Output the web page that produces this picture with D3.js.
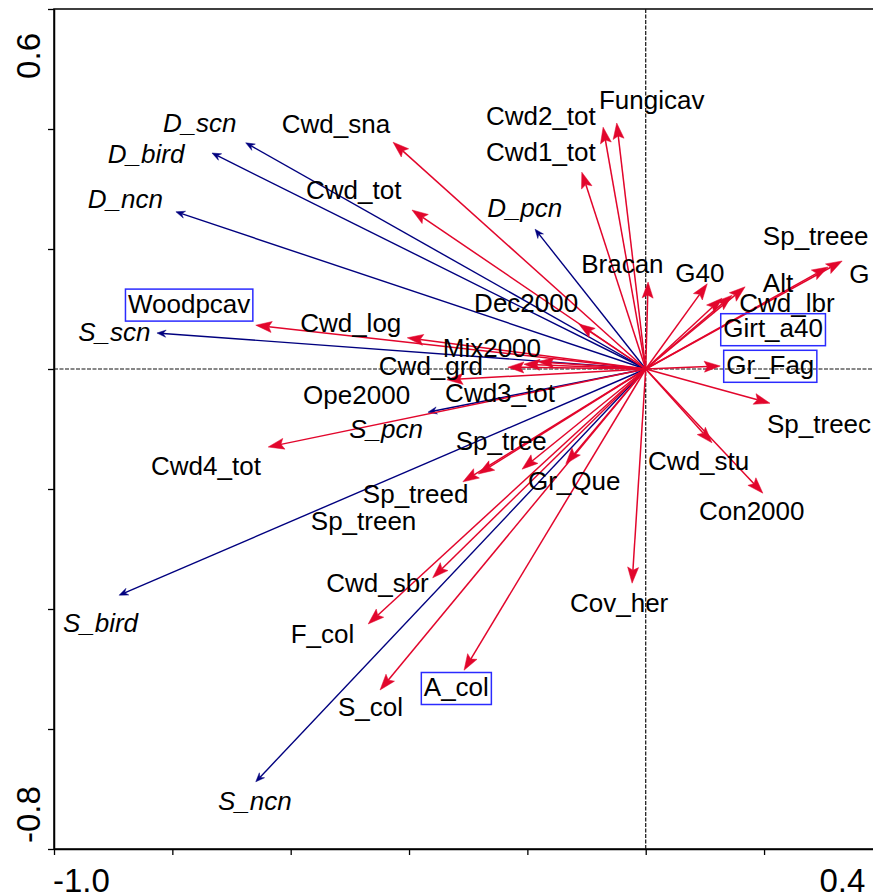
<!DOCTYPE html>
<html>
<head>
<meta charset="utf-8">
<script src="https://cdn.jsdelivr.net/npm/d3@7"></script>
<style>
  body { margin: 0; background: #fff; }
  svg { display: block; font-family: Arial, "Liberation Sans", sans-serif; }
</style>
</head>
<body>
<svg id="chart" width="873" height="896"></svg>
<script>
// Species scores (response variables), drawn as navy arrows
const species  = ["D_scn", "D_bird", "D_ncn", "D_pcn", "S_scn", "S_pcn", "S_bird", "S_ncn"];
const speciesX = [-0.676, -0.733, -0.794, -0.187, -0.826, -0.368, -0.890, -0.659];
const speciesY = [ 0.377,  0.360,  0.262,  0.233,  0.060, -0.072, -0.377, -0.688];

// Environmental variables, drawn as red arrows
const envVars = ["Cwd_sna", "Cwd_tot", "Cwd2_tot", "Fungicav", "Cwd1_tot", "Bracan", "Dec2000",
  "Woodpcav", "Cwd_log", "Mix2000", "Cwd3_tot", "Cwd_grd", "Ope2000", "Cwd4_tot",
  "Sp_treed", "Sp_treen", "Sp_tree", "Gr_Que", "Cwd_sbr", "F_col", "S_col", "A_col",
  "Cov_her", "Cwd_stu", "Con2000", "Sp_treec", "Gr_Fag", "Girt_a40", "Cwd_lbr", "Alt",
  "G40", "Sp_treee", "G"];
const envX = [-0.427, -0.395, -0.072, -0.049, -0.108, 0.004, -0.113,
  -0.659, -0.403, -0.182, -0.206, -0.233, -0.336, -0.638,
  -0.309, -0.283, -0.209, -0.135, -0.360, -0.469, -0.449, -0.307,
  -0.023, 0.112, 0.198, 0.210, 0.126, 0.129, 0.146, 0.168,
  0.104, 0.308, 0.332];
const envY = [0.378, 0.265, 0.403, 0.410, 0.328, 0.145, 0.075,
  0.073, 0.052, 0.012, 0.008, 0.003, -0.018, -0.130,
  -0.188, -0.175, -0.167, -0.158, -0.348, -0.425, -0.535, -0.502,
  -0.357, -0.123, -0.207, -0.057, 0.005, 0.118, 0.123, 0.137,
  0.142, 0.170, 0.180];

// Label anchors (start of text, baseline) in plot units
const speciesLabelX = [-0.816, -0.909, -0.943, -0.268, -0.959, -0.501, -0.985, -0.723];
const speciesLabelY = [ 0.395,  0.343,  0.268,  0.253,  0.047, -0.115, -0.438, -0.735];
const envLabelX = [-0.615, -0.574, -0.270, -0.079, -0.270, -0.109, -0.290,
  -0.875, -0.584, -0.343, -0.339, -0.451, -0.579, -0.836,
  -0.478, -0.566, -0.321, -0.199, -0.540, -0.600, -0.520, -0.375,
  -0.128, 0.004, 0.090, 0.205, 0.136, 0.131, 0.158, 0.198,
  0.050, 0.198, 0.344];
const envLabelY = [0.393, 0.283, 0.407, 0.433, 0.347, 0.160, 0.095,
  0.094, 0.062, 0.020, -0.055, -0.010, -0.058, -0.177,
  -0.223, -0.268, -0.135, -0.202, -0.372, -0.457, -0.578, -0.545,
  -0.405, -0.168, -0.252, -0.107, -0.008, 0.053, 0.095, 0.128,
  0.145, 0.207, 0.143];

// Variables highlighted with a frame
const boxedLabels = ["Woodpcav", "Girt_a40", "Gr_Fag", "A_col"];

// Axes
const xDomain = [-1.0, 0.4];
const yDomain = [-0.8, 0.6];
const xTicks = [-1.0, -0.8, -0.6, -0.4, -0.2, 0.0, 0.2, 0.4];
const yTicks = [-0.8, -0.6, -0.4, -0.2, 0.0, 0.2, 0.4, 0.6];
const xEndLabels = ["-1.0", "0.4"];
const yEndLabels = ["-0.8", "0.6"];

const RED = "#e2062c";
const NAVY = "#00007f";
const BOXBLUE = "#2b2bff";

const svg = d3.select("#chart");
const x = d3.scaleLinear().domain(xDomain).range([54, 882.4]);
const y = d3.scaleLinear().domain(yDomain).range([849, 9]);

// frame
svg.append("rect")
  .attr("x", x(xDomain[0])).attr("y", y(yDomain[1]))
  .attr("width", x(xDomain[1]) - x(xDomain[0]))
  .attr("height", y(yDomain[0]) - y(yDomain[1]))
  .attr("fill", "none").attr("stroke", "#000").attr("stroke-width", 1.5);

// tick marks
const axL = d3.axisLeft(y).tickValues(yTicks).tickFormat("").tickSize(6).tickSizeOuter(0);
const axB = d3.axisBottom(x).tickValues(xTicks).tickFormat("").tickSize(6).tickSizeOuter(0);
const gL = svg.append("g").attr("transform", `translate(${x(xDomain[0])},0)`).call(axL);
const gB = svg.append("g").attr("transform", `translate(0,${y(yDomain[0])})`).call(axB);
[gL, gB].forEach(g => {
  g.select(".domain").attr("stroke", "#000").attr("stroke-width", 1.5);
  g.selectAll(".tick line").attr("stroke", "#000").attr("stroke-width", 1.3);
});

// end labels of the axes
svg.append("text").attr("x", x(xDomain[0]) - 1).attr("y", 892)
  .attr("font-size", 33).attr("text-anchor", "start").text(xEndLabels[0]);
svg.append("text").attr("x", x(xDomain[1]) - 17).attr("y", 892)
  .attr("font-size", 33).attr("text-anchor", "end").text(xEndLabels[1]);
svg.append("text").attr("transform", `translate(40,${y(yDomain[0]) - 6}) rotate(-90)`)
  .attr("font-size", 33).attr("text-anchor", "start").text(yEndLabels[0]);
svg.append("text").attr("transform", `translate(40,${y(yDomain[1]) + 24}) rotate(-90)`)
  .attr("font-size", 33).attr("text-anchor", "end").text(yEndLabels[1]);

// zero lines
svg.append("line")
  .attr("x1", x(0)).attr("x2", x(0)).attr("y1", y(yDomain[1])).attr("y2", y(yDomain[0]))
  .attr("stroke", "#111").attr("stroke-width", 1.2).attr("stroke-dasharray", "4,1.5");
svg.append("line")
  .attr("x1", x(xDomain[0])).attr("x2", x(xDomain[1])).attr("y1", y(0)).attr("y2", y(0))
  .attr("stroke", "#111").attr("stroke-width", 1.2).attr("stroke-dasharray", "4,1.5");

// arrow drawing: shaft from origin plus a filled head at the score
function drawArrows(g, xs, ys, color, width, headLen, headHalf) {
  const ox = x(0), oy = y(0);
  xs.forEach((vx, i) => {
    const tx = x(vx), ty = y(ys[i]);
    const a = Math.atan2(ty - oy, tx - ox);
    const c = Math.cos(a), s = Math.sin(a);
    const bx = tx - headLen * c, by = ty - headLen * s;
    const nx = tx - (headLen - 3) * c, ny = ty - (headLen - 3) * s;
    g.append("line")
      .attr("x1", ox).attr("y1", oy).attr("x2", nx).attr("y2", ny)
      .attr("stroke", color).attr("stroke-width", width);
    const pts = [
      [tx, ty],
      [bx - headHalf * s, by + headHalf * c],
      [nx, ny],
      [bx + headHalf * s, by - headHalf * c]
    ];
    g.append("path").attr("d", "M" + pts.map(p => p.join(",")).join("L") + "Z")
      .attr("fill", color).attr("stroke", color).attr("stroke-width", 0.5);
  });
}
drawArrows(svg.append("g"), speciesX, speciesY, NAVY, 1.4, 9, 3.6);
drawArrows(svg.append("g"), envX, envY, RED, 1.5, 16, 5.5);

// labels
const gLab = svg.append("g").attr("font-size", 26).attr("fill", "#000");
species.forEach((name, i) => {
  gLab.append("text").attr("x", x(speciesLabelX[i])).attr("y", y(speciesLabelY[i]))
    .attr("font-style", "italic").text(name);
});
envVars.forEach((name, i) => {
  const t = gLab.append("text").attr("x", x(envLabelX[i])).attr("y", y(envLabelY[i])).text(name);
  if (boxedLabels.includes(name)) {
    const bb = t.node().getBBox();
    gLab.append("rect")
      .attr("x", bb.x - 2.5).attr("y", bb.y + 0.5)
      .attr("width", bb.width + 5).attr("height", bb.height + 2)
      .attr("fill", "none").attr("stroke", BOXBLUE).attr("stroke-width", 1.5);
  }
});
</script>
</body>
</html>
